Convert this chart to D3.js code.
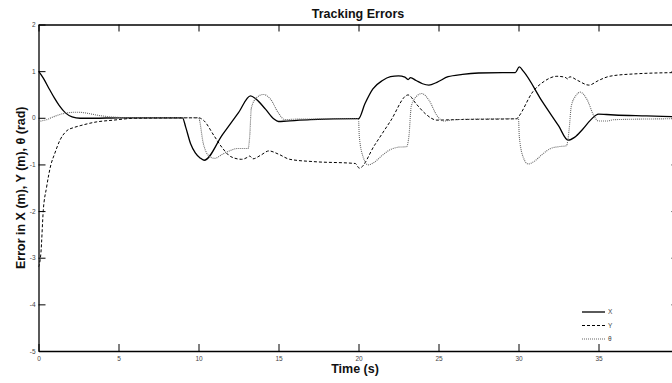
<!DOCTYPE html>
<html>
<head>
<meta charset="utf-8">
<script src="https://cdn.jsdelivr.net/npm/d3@7"></script>
<style>
  html, body { margin: 0; padding: 0; background: #fff; }
  svg { display: block; }
  text { font-family: Arial, "Liberation Sans", Helvetica, sans-serif; }
</style>
</head>
<body>
<svg id="chart" width="672" height="383"></svg>
<script>
// Tracking errors of the controller (time in seconds)
const xTime = [0, 0.3, 0.7, 1.0, 1.3, 1.7, 2.1, 2.6, 3.5, 5, 9.0, 9.2, 9.5, 9.8, 10.1, 10.35, 11.5, 12.5, 13.25, 13.6, 14.2, 14.7, 15.0, 15.5, 17, 19.9, 20.0, 20.4, 20.9, 21.5, 22.0, 22.5, 22.9, 23.1, 23.25, 23.6, 24.0, 24.4, 24.9, 25.6, 26.5, 27.5, 29.0, 29.8, 30.05, 30.3, 31.5, 32.5, 33.1, 33.5, 34.0, 34.5, 35.0, 35.5, 36, 38, 40];
const xErr  = [1.0, 0.85, 0.6, 0.42, 0.26, 0.1, 0.02, -0.01, -0.01, 0, 0, -0.2, -0.55, -0.75, -0.86, -0.91, -0.36, 0.11, 0.47, 0.4, 0.18, -0.02, -0.08, -0.07, -0.04, -0.02, -0.02, 0.3, 0.62, 0.8, 0.88, 0.9, 0.87, 0.82, 0.86, 0.8, 0.73, 0.7, 0.76, 0.88, 0.93, 0.96, 0.97, 0.97, 1.09, 1.0, 0.34, -0.17, -0.48, -0.42, -0.25, -0.05, 0.08, 0.07, 0.06, 0.04, 0.02];

const yTime = [0, 0.15, 0.3, 0.5, 0.78, 1.0, 1.34, 1.76, 2.2, 2.6, 3.6, 4.7, 6, 10.0, 10.3, 11.0, 11.5, 12.0, 12.7, 13.1, 13.2, 13.4, 13.9, 14.4, 15.0, 15.7, 17.2, 19.8, 20.05, 21.0, 22.0, 23.1, 23.6, 24.2, 24.9, 26, 29.9, 30.0, 30.9, 31.6, 32.4, 32.9, 33.1, 33.2, 33.7, 34.4, 35.0, 35.7, 37.2, 40];
const yErr  = [-3.2, -2.9, -1.98, -1.5, -1.0, -0.78, -0.48, -0.28, -0.21, -0.17, -0.09, -0.05, -0.01, 0, -0.05, -0.4, -0.65, -0.83, -0.89, -0.84, -0.82, -0.88, -0.8, -0.71, -0.78, -0.89, -0.94, -0.98, -1.08, -0.59, -0.07, 0.49, 0.3, 0.08, -0.05, -0.04, -0.02, 0.02, 0.56, 0.78, 0.89, 0.87, 0.83, 0.88, 0.8, 0.7, 0.8, 0.89, 0.94, 0.97];

const thTime = [0, 0.5, 1.0, 1.55, 2.4, 3.0, 3.6, 4.5, 6, 10.0, 10.3, 10.6, 11.0, 11.5, 12.0, 12.4, 13.1, 13.2, 13.3, 13.6, 14.05, 14.5, 15.0, 15.4, 16, 19.9, 20.0, 20.05, 20.3, 20.6, 21.0, 21.5, 22.0, 22.5, 23.0, 23.15, 23.3, 23.6, 23.95, 24.4, 24.9, 25.3, 26, 29.9, 30.0, 30.05, 30.3, 30.6, 31.0, 31.5, 32.0, 32.5, 33.0, 33.15, 33.3, 33.6, 33.85, 34.3, 34.7, 35.0, 35.5, 36, 40];
const thErr  = [-0.08, -0.04, 0.03, 0.09, 0.12, 0.1, 0.06, 0.02, 0, 0, -0.55, -0.8, -0.87, -0.78, -0.7, -0.66, -0.66, -0.4, 0.2, 0.42, 0.5, 0.4, 0.1, -0.04, -0.03, -0.02, -0.02, -0.4, -0.85, -1.01, -0.95, -0.8, -0.68, -0.63, -0.62, -0.4, 0.25, 0.45, 0.52, 0.38, 0.05, -0.07, -0.04, -0.02, -0.02, -0.4, -0.85, -0.99, -0.93, -0.78, -0.66, -0.62, -0.6, -0.3, 0.25, 0.48, 0.55, 0.38, 0.05, -0.07, -0.07, -0.04, -0.02];

const xTicks = [0, 5, 10, 15, 20, 25, 30, 35];
const yTicks = [-5, -4, -3, -2, -1, 0, 1, 2];
const seriesNames = ["X", "Y", "\u03b8"];

const svg = d3.select("#chart");
const W = 672, H = 383;
const m = { left: 38.5, top: 24.5, right: 678.5, bottom: 351 };

const x = d3.scaleLinear().domain([0, 40]).range([m.left, m.right]);
const y = d3.scaleLinear().domain([-5, 2]).range([m.bottom, m.top]);
const plain = d => String(d);

svg.append("rect").attr("width", W).attr("height", H).attr("fill", "#fff");

svg.append("defs").append("clipPath").attr("id", "plotClip")
  .append("rect").attr("x", m.left).attr("y", m.top)
  .attr("width", m.right - m.left).attr("height", m.bottom - m.top);

// axes: ticks point into the plot, labels only on bottom and left
function styleAxis(g) {
  g.selectAll("path.domain").attr("stroke", "#000").attr("stroke-width", 1.3);
  g.selectAll(".tick line").attr("stroke", "#000").attr("stroke-width", 1);
  g.selectAll(".tick text").attr("fill", "#444").style("font-size", "6.5px")
    .style("font-family", "Arial, 'Liberation Sans', sans-serif");
}

svg.append("g").attr("transform", `translate(0,${m.bottom})`)
  .call(d3.axisBottom(x).tickValues(xTicks).tickSizeInner(-7).tickSizeOuter(0).tickPadding(5).tickFormat(plain))
  .call(styleAxis);
svg.append("g").attr("transform", `translate(0,${m.top})`)
  .call(d3.axisTop(x).tickValues(xTicks).tickSizeInner(-7).tickSizeOuter(0).tickFormat(""))
  .call(styleAxis);
svg.append("g").attr("transform", `translate(${m.left},0)`)
  .call(d3.axisLeft(y).tickValues(yTicks).tickSizeInner(-7).tickSizeOuter(0).tickPadding(3).tickFormat(plain))
  .call(styleAxis);
svg.append("g").attr("transform", `translate(${m.right},0)`)
  .call(d3.axisRight(y).tickValues(yTicks).tickSizeInner(-7).tickSizeOuter(0).tickFormat(""))
  .call(styleAxis);

// series lines
const line = d3.line().x(d => x(d[0])).y(d => y(d[1])).curve(d3.curveMonotoneX);
const series = [
  { t: xTime, v: xErr, stroke: "#000", width: 1.3, dash: null },
  { t: yTime, v: yErr, stroke: "#000", width: 1, dash: "3,2" },
  { t: thTime, v: thErr, stroke: "#666", width: 1.1, dash: "1,1" }
];
const plot = svg.append("g").attr("clip-path", "url(#plotClip)");
series.forEach(s => {
  plot.append("path")
    .datum(s.t.map((t, i) => [t, s.v[i]]))
    .attr("d", line)
    .attr("fill", "none")
    .attr("stroke", s.stroke)
    .attr("stroke-width", s.width)
    .attr("stroke-dasharray", s.dash);
});

// legend
const legend = svg.append("g");
seriesNames.forEach((name, i) => {
  const s = series[i];
  const ly = 312 + i * 13.5;
  legend.append("line")
    .attr("x1", 582).attr("x2", 605).attr("y1", ly).attr("y2", ly)
    .attr("stroke", s.stroke).attr("stroke-width", s.width)
    .attr("stroke-dasharray", s.dash);
  legend.append("text")
    .attr("x", 608).attr("y", ly + 2.3)
    .attr("fill", "#444").style("font-size", "6.5px")
    .text(name);
});

// titles
svg.append("text")
  .attr("x", 358).attr("y", 17.5)
  .attr("text-anchor", "middle")
  .style("font-size", "12.5px").style("font-weight", "bold")
  .attr("fill", "#111")
  .text("Tracking Errors");

svg.append("text")
  .attr("x", 355).attr("y", 373)
  .attr("text-anchor", "middle")
  .style("font-size", "12.5px").style("font-weight", "bold")
  .attr("fill", "#111")
  .text("Time (s)");

svg.append("text")
  .attr("transform", `translate(24.5,${(m.top + m.bottom) / 2}) rotate(-90)`)
  .attr("text-anchor", "middle")
  .style("font-size", "12.5px").style("font-weight", "bold")
  .attr("fill", "#111")
  .text("Error in X (m), Y (m), \u03b8 (rad)");
</script>
</body>
</html>
